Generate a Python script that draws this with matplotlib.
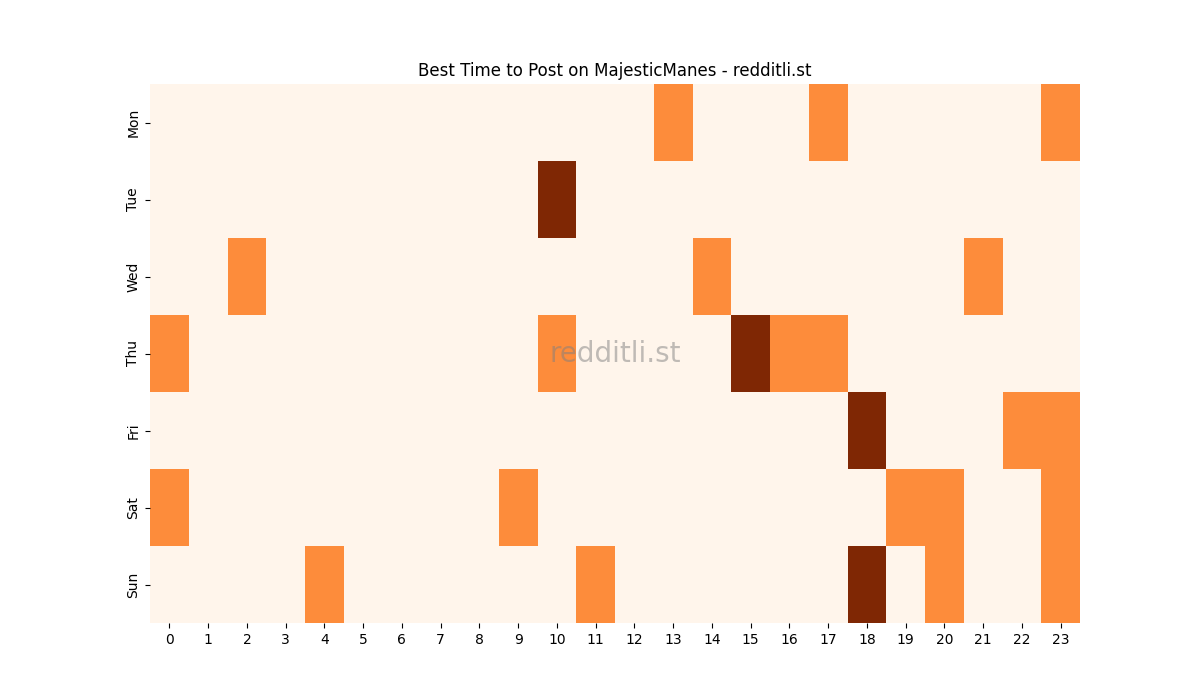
import numpy as np
import matplotlib
matplotlib.use("Agg")
import matplotlib.pyplot as plt
import seaborn as sns

days = ["Mon", "Tue", "Wed", "Thu", "Fri", "Sat", "Sun"]
hours = list(range(24))

# post counts per (day, hour)
mon = {13: 1, 17: 1, 23: 1}
tue = {10: 2}
wed = {2: 1, 14: 1, 21: 1}
thu = {0: 1, 10: 1, 15: 2, 16: 1, 17: 1}
fri = {18: 2, 22: 1, 23: 1}
sat = {0: 1, 9: 1, 19: 1, 20: 1, 23: 1}
sun = {4: 1, 11: 1, 18: 2, 20: 1, 23: 1}

rows = [mon, tue, wed, thu, fri, sat, sun]
data = np.zeros((len(days), len(hours)))
for i, r in enumerate(rows):
    for h, v in r.items():
        data[i, h] = v

fig = plt.figure(figsize=(12, 7), dpi=100)
ax = fig.add_subplot(111)
sns.heatmap(data, cmap="Oranges", cbar=False, ax=ax,
            xticklabels=hours, yticklabels=days)
ax.set_title("Best Time to Post on MajesticManes - redditli.st")
plt.setp(ax.get_yticklabels(), rotation=90, va="center")
plt.setp(ax.get_xticklabels(), rotation=0)
ax.text(0.5, 0.5, "redditli.st", transform=ax.transAxes, fontsize=20,
        color="gray", alpha=0.5, ha="center", va="center")

fig.savefig("out.png")
